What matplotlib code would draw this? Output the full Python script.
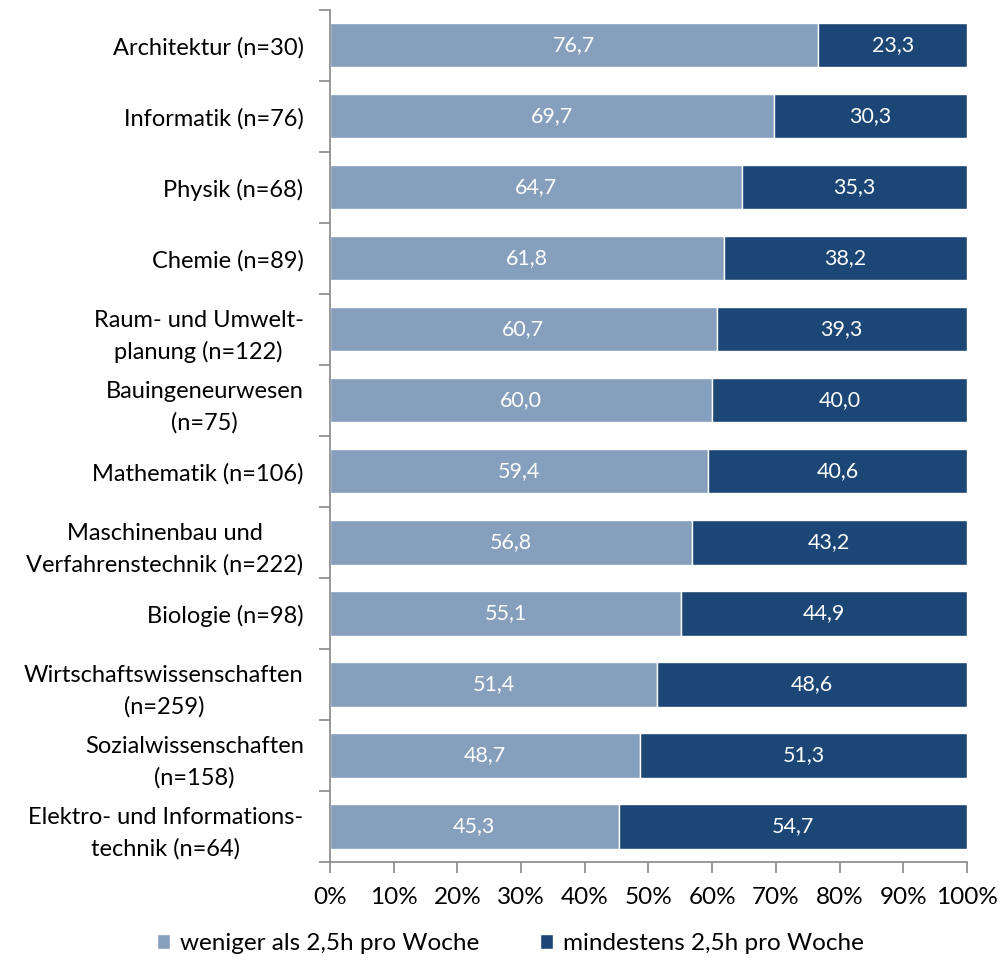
import matplotlib
matplotlib.use("Agg")
import matplotlib.pyplot as plt
import numpy as np

plt.rcParams['font.family'] = ['Lato', 'DejaVu Sans']

categories = [
    "Architektur (n=30)",
    "Informatik (n=76)",
    "Physik (n=68)",
    "Chemie (n=89)",
    "Raum- und Umwelt-\nplanung (n=122)",
    "Bauingeneurwesen\n(n=75)",
    "Mathematik (n=106)",
    "Maschinenbau und\nVerfahrenstechnik (n=222)",
    "Biologie (n=98)",
    "Wirtschaftswissenschaften\n(n=259)",
    "Sozialwissenschaften\n(n=158)",
    "Elektro- und Informations-\ntechnik (n=64)",
]
weniger = [76.7, 69.7, 64.7, 61.8, 60.7, 60.0, 59.4, 56.8, 55.1, 51.4, 48.7, 45.3]
mindestens = [23.3, 30.3, 35.3, 38.2, 39.3, 40.0, 40.6, 43.2, 44.9, 48.6, 51.3, 54.7]
series_names = ["weniger als 2,5h pro Woche", "mindestens 2,5h pro Woche"]
xticklabels = ["0%", "10%", "20%", "30%", "40%", "50%", "60%", "70%", "80%", "90%", "100%"]

c_light = "#859FBC"
c_dark = "#1B4675"

fig = plt.figure(figsize=(10.03, 9.68), dpi=100)
ax = fig.add_axes([0.329, 0.1095, 0.635, 0.8802])

y = np.arange(len(categories))
h = 0.62
b1 = ax.barh(y, weniger, height=h, color=c_light, edgecolor="white", linewidth=1.0, label=series_names[0])
b2 = ax.barh(y, mindestens, left=weniger, height=h, color=c_dark, edgecolor="white", linewidth=1.0, label=series_names[1])

for yi, a, b in zip(y, weniger, mindestens):
    ax.text(a / 2, yi, f"{a:.1f}".replace(".", ","), ha="center", va="center", color="white", fontsize=15.5)
    ax.text(a + b / 2, yi, f"{b:.1f}".replace(".", ","), ha="center", va="center", color="white", fontsize=15.5)

ax.set_xlim(0, 100)
ax.set_ylim(len(categories) - 0.5, -0.5)
ax.set_xticks(np.arange(0, 101, 10))
ax.set_xticklabels(xticklabels, fontsize=17.5)
ax.set_yticks(y)
ax.set_yticklabels(categories, fontsize=17, multialignment="center", linespacing=1.55)
ax.tick_params(axis="y", length=0, pad=19)
ax.set_yticks(np.arange(-0.5, len(categories)), minor=True)
ax.tick_params(axis="y", which="minor", length=8, color="#888888", width=1.2)
ax.tick_params(axis="x", length=8, color="#888888", width=1.2, pad=10)

for s in ["top", "right"]:
    ax.spines[s].set_visible(False)
for s in ["left", "bottom"]:
    ax.spines[s].set_color("#888888")
    ax.spines[s].set_linewidth(1.2)

fig.legend(handles=[b1, b2], labels=series_names, loc="lower center", bbox_to_anchor=(0.509, -0.008),
           ncol=2, frameon=False, fontsize=17.5, handlelength=0.55, handleheight=0.55,
           columnspacing=2.5, handletextpad=0.4)

fig.savefig("out.png", dpi=100)
